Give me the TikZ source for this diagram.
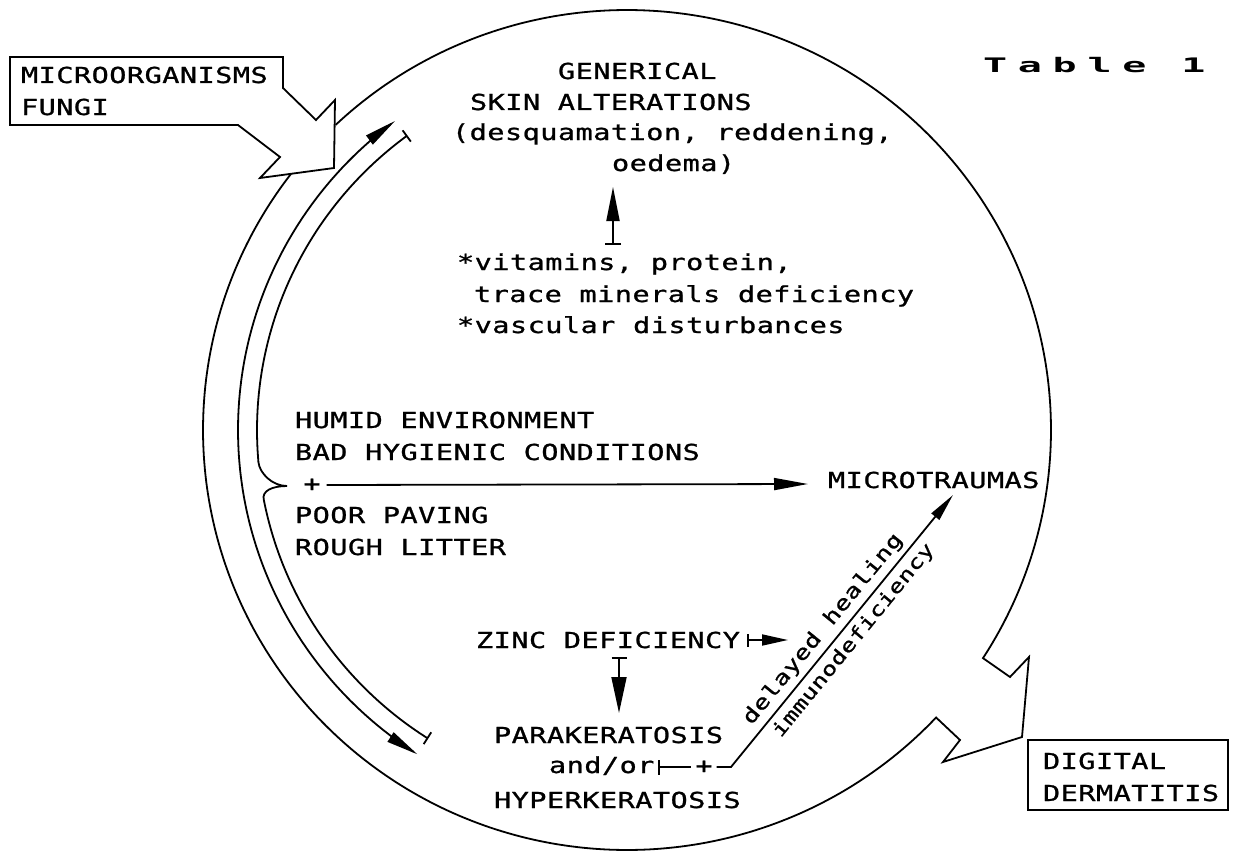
\documentclass[tikz,border=0pt]{standalone}
\usepackage{fontspec}
\usetikzlibrary{arrows.meta}
\newfontfamily\dmfont{DejaVu Sans Mono}[FakeStretch=1.3, LetterSpace=2, FakeBold=1]
\newfontfamily\tblfont{DejaVu Sans Mono}[LetterSpace=27]
\begin{document}
\begin{tikzpicture}[x=1pt,y=-1pt,
  every node/.style={inner sep=0pt, outer sep=0pt},
  lbl/.style={font=\dmfont\fontsize{22}{26}\selectfont, anchor=base west},
  slbl/.style={font=\dmfont\fontsize{20}{24}\selectfont},
  tlbl/.style={font=\dmfont\fontsize{19}{23}\selectfont},
  ln/.style={line width=1.8pt, line join=miter},
]
\useasboundingbox (0,0) rectangle (1235,851);

% ---- big cycle with outgoing arrow at lower right
\draw[ln] plot[domain=-133.4:32.9, samples=200, variable=\t] ({627+424*cos(\t)},{430+420*sin(\t)})
  -- (1010,677) -- (1029,657) -- (1022,737) -- (943,762) -- (960,740)
  -- plot[domain=43.2:217.6, samples=200, variable=\t] ({627+424*cos(\t)},{430+420*sin(\t)});

% ---- microorganisms box with block arrow
\draw[ln] (10,57) -- (283,57) -- (283,88) -- (316,120) -- (335,100) -- (334,168)
  -- (260,178) -- (280,157) -- (238,125) -- (10,125) -- cycle;
\node[lbl] (micro1) at (21,83) {MICROORGANISMS};
\node[lbl] (micro2) at (21,115) {FUNGI};

% ---- digital dermatitis box
\coordinate (dbA) at (1028,740);
\coordinate (dbB) at (1228,810);
\draw[ln] (dbA) rectangle (dbB);
\node[lbl] (dig1) at (1043,769) {DIGITAL};
\node[lbl] (dig2) at (1043,801) {DERMATITIS};

% ---- Table 1
\node[font=\tblfont\bfseries\fontsize{20}{24}\selectfont, anchor=base west, xscale=2] (tbl) at (983,73) {Table 1};

% ---- inner double-headed arc
\draw[ln, {Triangle[length=32pt,width=11pt]}-{Triangle[length=32pt,width=11pt]}]
  plot[domain=122.6:233.4, samples=150, variable=\t] ({627+389*cos(\t)},{430+385*sin(\t)});

% ---- innermost arc with T-bars and brace
\draw[ln, {Bar[width=14pt]}-{Bar[width=14pt]}]
  plot[domain=122.5:169, samples=80, variable=\t] ({627+370*cos(\t)},{430+366*sin(\t)})
  .. controls (261.5,491) and (272,486) .. (287,486)
  .. controls (272,486) and (259.5,473) .. (258.4,462)
  -- plot[domain=175:233.6, samples=100, variable=\t] ({627+370*cos(\t)},{430+366*sin(\t)});

% ---- generical skin alterations
\node[lbl] (gen1) at (558,79) {GENERICAL};
\node[lbl] (gen2) at (470,110) {SKIN ALTERATIONS};
\node[lbl] (gen3) at (452,140) {(desquamation, reddening,};
\node[lbl] (gen4) at (612,171) {oedema)};

\node[lbl] (vit1) at (457,270) {*vitamins, protein,};
\node[lbl] (vit2) at (474,302) {trace minerals deficiency};
\node[lbl] (vit3) at (457,333) {*vascular disturbances};
\coordinate (vbar) at (613,245);
\coordinate (vtip) at (613,187);
\draw[ln, {Bar[width=16pt]}-{Triangle[length=34pt,width=13pt]}] (vbar) -- (vtip);

% ---- environment
\node[lbl] (env1) at (295,428) {HUMID ENVIRONMENT};
\node[lbl] (env2) at (295,460) {BAD HYGIENIC CONDITIONS};
\node[lbl] (env3) at (295,523) {POOR PAVING};
\node[lbl] (env4) at (295,555) {ROUGH LITTER};
\node[lbl, anchor=center] (plus1) at (312,485) {+};
\node[lbl] (mt) at (828,488) {MICROTRAUMAS};
\coordinate (mtip) at (808,484);
\draw[ln, -{Triangle[length=34pt,width=12pt]}] ([xshift=6pt]plus1.east) -- (mtip);

% ---- zinc
\node[lbl] (zinc) at (476,648) {ZINC DEFICIENCY};
\coordinate (zbar) at (747,640);
\coordinate (ztip) at (788,640);
\draw[ln, {Bar[width=13pt]}-{Triangle[length=26pt,width=11pt]}] (zbar) -- (ztip);
\coordinate (dbar) at (619,657);
\coordinate (dtip) at (619,713);
\draw[ln, {Bar[width=15pt]}-{Triangle[length=36pt,width=15pt]}] (dbar) -- (dtip);

\node[lbl] (para) at (494,743) {PARAKERATOSIS};
\node[lbl] (andor) at (549,773) {and/or};
\node[lbl] (hyper) at (494,808) {HYPERKERATOSIS};
\node[lbl, anchor=center] (plus2) at (704,767) {+};
\coordinate (tbar2) at (658,767);
\draw[ln, {Bar[width=15pt]}-] (tbar2) -- ([xshift=-4pt]plus2.west);
\coordinate (dstart) at (731,767);
\coordinate (dtip2) at (953,495);
\draw[ln, -{Triangle[length=28pt,width=10pt]}] ([xshift=4pt]plus2.east) -- (dstart) -- (dtip2)
  node[slbl, pos=0.47, sloped, above=6pt] (dh) {delayed healing}
  node[tlbl, pos=0.50, sloped, below=6pt] (imm) {immunodeficiency};
\end{tikzpicture}
\end{document}
